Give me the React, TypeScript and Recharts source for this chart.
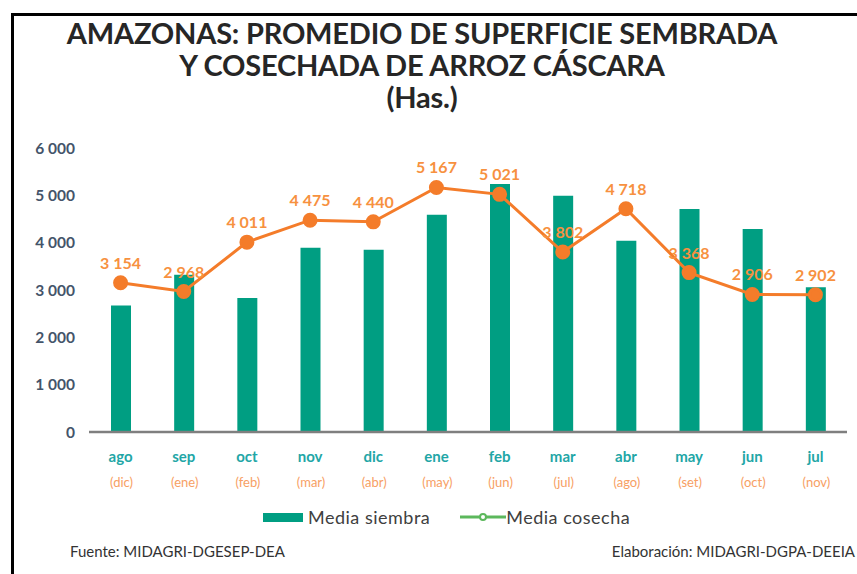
import React from 'react';
import { ComposedChart, Bar, Line, XAxis, YAxis, LabelList } from 'recharts';

const MONTHS = ['ago', 'sep', 'oct', 'nov', 'dic', 'ene', 'feb', 'mar', 'abr', 'may', 'jun', 'jul'];
const HARVEST_MONTHS = ['dic', 'ene', 'feb', 'mar', 'abr', 'may', 'jun', 'jul', 'ago', 'set', 'oct', 'nov'];
const SIEMBRA = [2670, 3320, 2830, 3890, 3850, 4590, 5240, 4990, 4040, 4710, 4290, 3060];
const COSECHA = [3154, 2968, 4011, 4475, 4440, 5167, 5021, 3802, 4718, 3368, 2906, 2902];
const Y_TICKS = [0, 1000, 2000, 3000, 4000, 5000, 6000];

const data = MONTHS.map((m, i) => ({
  month: m,
  harvest: HARVEST_MONTHS[i],
  siembra: SIEMBRA[i],
  cosecha: COSECHA[i],
}));

const FONT = "Lato, 'Open Sans', sans-serif";
const BAR_COLOR = '#009E82';
const LINE_COLOR = '#F47C2A';

// "6000" -> "6 000"
const fmt = (v: number) => String(v).replace(/\B(?=(\d{3})+(?!\d))/g, ' ');

const MonthTick = (props: any) => {
  const { x, y, payload, index } = props;
  return (
    <g>
      <text x={x} y={y + 22} textAnchor="middle" fill="#22A6A6" fontSize={15} fontWeight={700} fontFamily={FONT}>
        {payload.value}
      </text>
      <text x={x + 1} y={y + 47} textAnchor="middle" fill="#F7A064" fontSize={13} fontFamily={FONT}>
        ({data[index]?.harvest})
      </text>
    </g>
  );
};

export default function App() {
  return (
    <div style={{ position: 'absolute', left: 0, top: 0, width: 857, height: 574, background: '#fff', overflow: 'hidden', fontFamily: FONT }}>
      {/* frame */}
      <div style={{ position: 'absolute', left: 11, top: 13, width: 860, height: 600, borderTop: '3px solid #000', borderLeft: '3px solid #000' }} />
      <div style={{ position: 'absolute', left: 0, width: 844, top: 17, textAlign: 'center', fontWeight: 700, fontSize: 29, lineHeight: '32px', color: '#262626', letterSpacing: -0.2 }}>
        AMAZONAS: PROMEDIO DE SUPERFICIE SEMBRADA
        <br />Y COSECHADA DE ARROZ CÁSCARA
        <br />(Has.)
      </div>
      <div style={{ position: 'absolute', left: 0, top: 0 }}>
        <ComposedChart width={857} height={574} data={data} margin={{ top: 148, right: 10, bottom: 0, left: 29 }}>
          <YAxis
            domain={[0, 6000]}
            ticks={Y_TICKS}
            width={60}
            axisLine={false}
            tickLine={false}
            tickMargin={8}
            tickFormatter={fmt}
            tick={{ fill: '#44546A', fontSize: 15.5, fontWeight: 700, fontFamily: FONT }}
          />
          <XAxis
            dataKey="month"
            height={142}
            tickLine={false}
            axisLine={{ stroke: '#7F7F7F', strokeWidth: 2.5 }}
            tick={<MonthTick />}
            interval={0}
          />
          <Bar dataKey="siembra" fill={BAR_COLOR} barSize={20} isAnimationActive={false} />
          <Line
            dataKey="cosecha"
            stroke={LINE_COLOR}
            strokeWidth={3}
            dot={{ r: 6, fill: LINE_COLOR, stroke: LINE_COLOR }}
            isAnimationActive={false}
          >
            <LabelList
              dataKey="cosecha"
              position="top"
              offset={14}
              formatter={(v: any) => fmt(v)}
              fill="#F7913F"
              fontSize={16}
              fontWeight={700}
              fontFamily={FONT}
            />
          </Line>
        </ComposedChart>
      </div>
      {/* legend */}
      <div style={{ position: 'absolute', top: 506, left: 263, display: 'flex', alignItems: 'center', fontSize: 18, letterSpacing: 0.5, color: '#404040' }}>
        <span style={{ display: 'inline-block', width: 40, height: 9, background: BAR_COLOR, marginRight: 5 }} />
        <span>Media siembra</span>
        <svg width={46} height={12} style={{ marginLeft: 30 }}>
          <line x1={0} y1={6} x2={46} y2={6} stroke="#5CB85C" strokeWidth={3} />
          <circle cx={23} cy={6} r={3} fill="#fff" stroke="#5CB85C" strokeWidth={2} />
        </svg>
        <span>Media cosecha</span>
      </div>
      {/* footer */}
      <div style={{ position: 'absolute', top: 542, left: 70, fontSize: 15, color: '#333' }}>Fuente: MIDAGRI-DGESEP-DEA</div>
      <div style={{ position: 'absolute', top: 542, right: 2, fontSize: 15, color: '#333' }}>Elaboración: MIDAGRI-DGPA-DEEIA</div>
    </div>
  );
}
